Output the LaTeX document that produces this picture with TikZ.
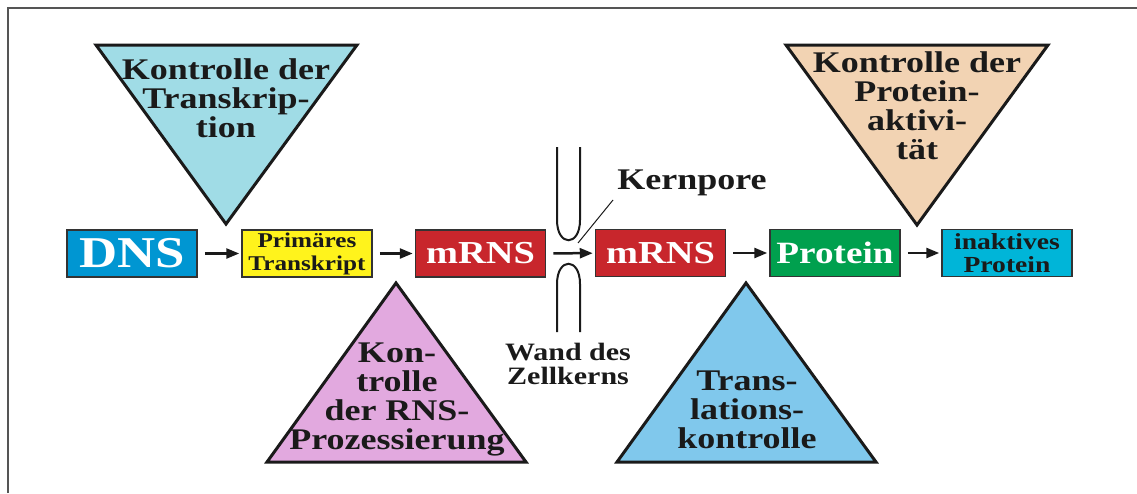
\documentclass[tikz,border=0pt]{standalone}
\usepackage{fontspec}
\setmainfont{Liberation Serif}[FakeStretch=1.2]
\usetikzlibrary{arrows.meta}
\definecolor{txt}{HTML}{1A1A1A}
\definecolor{frame}{HTML}{555555}
\definecolor{triA}{HTML}{A0DCE6}
\definecolor{triB}{HTML}{E2A9DF}
\definecolor{triC}{HTML}{80C8EC}
\definecolor{triD}{HTML}{F2D3B3}
\definecolor{dnsblue}{HTML}{0096D2}
\definecolor{prim}{HTML}{FFF31C}
\definecolor{mred}{HTML}{C8262C}
\definecolor{pgreen}{HTML}{00A04E}
\definecolor{icyan}{HTML}{00B5D8}
\definecolor{boxedge}{HTML}{333333}
\begin{document}
\begin{tikzpicture}[x=1pt,y=-1pt,
  tri/.style={draw=txt, line width=3pt, line join=miter},
  trilabel/.style={font=\fontsize{30}{29}\selectfont\bfseries, align=center, text=txt, inner sep=0pt},
  box/.style={draw=boxedge, line width=1.5pt, minimum width=130pt, minimum height=47pt, inner sep=0pt, align=center},
  arr/.style={-{Triangle[length=13pt,width=10pt]}, line width=2.5pt, draw=txt, shorten <=7pt, shorten >=2pt},
  wall/.style={draw=txt, line width=2pt},
  lbl/.style={text=txt, inner sep=0pt, align=center}]
\useasboundingbox (0,0) rectangle (1137,493);
% frame
\draw[frame, line width=2pt] (8,493) -- (8,8) -- (1137,8);
% triangles
\draw[tri, fill=triA] (96,45) -- (357,45) -- (226,224) -- cycle;
\draw[tri, fill=triD] (786,45) -- (1048,45) -- (917,225) -- cycle;
\draw[tri, fill=triB] (396,283) -- (526,462) -- (267,462) -- cycle;
\draw[tri, fill=triC] (746,283) -- (876,462) -- (617,462) -- cycle;
\node[trilabel] (tA) at (226,98) {Kontrolle der\\Transkrip-\\tion};
\node[trilabel] (tD) at (917,106) {Kontrolle der\\Protein-\\aktivi-\\tät};
\node[trilabel] (tB) at (397,399) {Kon-\\trolle\\der RNS-\\Prozessierung};
\node[trilabel] (tC) at (747,410) {Trans-\\lations-\\kontrolle};
% boxes
\node[box, fill=dnsblue, text=white, font=\fontsize{44}{44}\selectfont\bfseries] (dns) at (132,253.5) {DNS};
\node[box, fill=prim, text=txt, font=\fontsize{21}{23}\selectfont\bfseries] (pt) at (307,253.5) {Primäres\\Transkript};
\node[box, fill=mred, text=white, font=\fontsize{32}{32}\selectfont\bfseries] (m1) at (480.5,253.5) {mRNS};
\node[box, fill=mred, text=white, font=\fontsize{32}{32}\selectfont\bfseries] (m2) at (660.5,253) {mRNS};
\node[box, fill=pgreen, text=white, font=\fontsize{31}{31}\selectfont\bfseries] (pr) at (835,253) {Protein};
\node[box, fill=icyan, text=txt, font=\fontsize{23}{23}\selectfont\bfseries] (ip) at (1007,253) {inaktives\\Protein};
% arrows
\draw[arr] (dns) -- (pt);
\draw[arr] (pt) -- (m1);
\draw[arr] (m1) -- (m2);
\draw[arr] (m2) -- (pr);
\draw[arr] (pr) -- (ip);
% nuclear pore walls
\draw[wall] (557,147) -- (557,220) .. controls (557,247) and (580,247) .. (580,220) -- (580,147);
\draw[wall] (557,332) -- (557,284) .. controls (557,257) and (580,257) .. (580,284) -- (580,332);
% labels
\node[lbl, font=\fontsize{30}{30}\selectfont\bfseries] (kp) at (692,183) {Kernpore};
\coordinate (leadA) at (613,200);
\coordinate (leadB) at (578,243);
\draw[txt, line width=1pt] (leadA) -- (leadB);
\node[lbl, font=\fontsize{25}{24}\selectfont\bfseries] (wd) at (568,364) {Wand des\\Zellkerns};
\end{tikzpicture}
\end{document}
